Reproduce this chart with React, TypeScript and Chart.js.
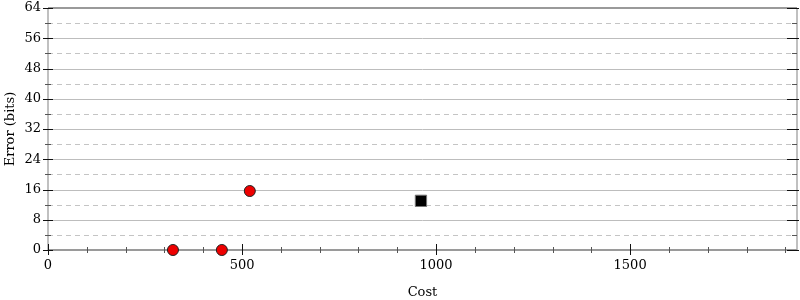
import React, { useEffect, useRef } from "react";
import { Chart, registerables } from "chart.js";

Chart.register(...registerables);

const circleCost = [322, 448, 520];
const circleError = [0, 0, 15.6];
const squareCost = [961];
const squareError = [13.0];
const xMax = 1930;
const yMax = 64;
const yMajorStep = 8;
const yMinorStep = 4;
const xMajorStep = 500;
const xMinorStep = 100;

const FONT = "'DejaVu Serif', serif";

const framePlugin = {
  id: "frame",
  beforeDatasetsDraw(chart: any) {
    const { ctx, chartArea: a, scales } = chart;
    const xs = scales.x;
    const ys = scales.y;
    ctx.save();
    ctx.strokeStyle = "#c4c4c4";
    ctx.lineWidth = 1;
    ctx.setLineDash([5, 4]);
    for (let v = yMinorStep; v < yMax; v += yMajorStep) {
      const py = Math.round(ys.getPixelForValue(v)) + 0.5;
      ctx.beginPath();
      ctx.moveTo(a.left, py);
      ctx.lineTo(a.right, py);
      ctx.stroke();
    }
    ctx.setLineDash([]);
    ctx.strokeStyle = "#bdbdbd";
    for (let v = yMajorStep; v < yMax; v += yMajorStep) {
      const py = Math.round(ys.getPixelForValue(v)) + 0.5;
      ctx.beginPath();
      ctx.moveTo(a.left, py);
      ctx.lineTo(a.right, py);
      ctx.stroke();
    }
    ctx.lineWidth = 2;
    ctx.strokeStyle = "#c0c0c0";
    ctx.beginPath();
    ctx.moveTo(a.left, a.top);
    ctx.lineTo(a.left, a.bottom);
    ctx.moveTo(a.right, a.top);
    ctx.lineTo(a.right, a.bottom);
    ctx.stroke();
    ctx.strokeStyle = "#9a9a9a";
    ctx.beginPath();
    ctx.moveTo(a.left, a.top);
    ctx.lineTo(a.right, a.top);
    ctx.moveTo(a.left, a.bottom);
    ctx.lineTo(a.right, a.bottom);
    ctx.stroke();
    ctx.lineWidth = 1;
    for (let v = 0; v <= yMax; v += yMinorStep) {
      const py = Math.round(ys.getPixelForValue(v)) + 0.5;
      const major = v % yMajorStep === 0;
      ctx.strokeStyle = major ? "#111" : "#555";
      ctx.beginPath();
      if (major) {
        ctx.moveTo(a.left - 5, py);
        ctx.lineTo(a.left + 5, py);
        ctx.moveTo(a.right - 10, py);
        ctx.lineTo(a.right + 2, py);
      } else {
        ctx.moveTo(a.left - 3, py);
        ctx.lineTo(a.left + 3, py);
        ctx.moveTo(a.right - 5, py);
        ctx.lineTo(a.right, py);
      }
      ctx.stroke();
    }
    for (let v = 0; v <= xMax; v += xMinorStep) {
      const px = Math.round(xs.getPixelForValue(v)) + 0.5;
      const major = v % xMajorStep === 0;
      ctx.strokeStyle = major ? "#111" : "#555";
      ctx.beginPath();
      if (major) {
        ctx.moveTo(px, a.bottom - 6);
        ctx.lineTo(px, a.bottom + 5);
      } else {
        ctx.moveTo(px, a.bottom - 3);
        ctx.lineTo(px, a.bottom + 3);
      }
      ctx.stroke();
    }
    ctx.restore();
  },
};

export default function App() {
  const ref = useRef<HTMLCanvasElement>(null);
  useEffect(() => {
    document.body.style.margin = "0";
    const chart = new Chart(ref.current as HTMLCanvasElement, {
      type: "scatter",
      data: {
        datasets: [
          {
            label: "circles",
            data: circleCost.map((c, i) => ({ x: c, y: circleError[i] })),
            pointStyle: "circle",
            pointRadius: 5.5,
            backgroundColor: "#ee0000",
            borderColor: "#222",
            borderWidth: 1,
            clip: false as any,
          },
          {
            label: "squares",
            data: squareCost.map((c, i) => ({ x: c, y: squareError[i] })),
            pointStyle: "rect",
            pointRadius: 8,
            backgroundColor: "#000",
            borderColor: "#777",
            borderWidth: 1,
            clip: false as any,
          },
        ],
      },
      options: {
        animation: false,
        responsive: false,
        maintainAspectRatio: false,
        layout: { autoPadding: false, padding: { top: 8, right: 3, left: 0, bottom: 0 } },
        plugins: {
          legend: { display: false },
          tooltip: { enabled: false },
        },
        scales: {
          x: {
            type: "linear",
            min: 0,
            max: xMax,
            grid: { display: false, drawTicks: false },
            border: { display: false },
            afterBuildTicks: (s: any) => {
              const t = [];
              for (let v = 0; v <= xMax; v += xMajorStep) t.push({ value: v });
              s.ticks = t;
            },
            ticks: {
              padding: 8,
              color: "#000",
              font: { family: FONT, size: 13 },
              maxRotation: 0,
              callback: (v: any) => String(v),
            },
            title: {
              display: true,
              text: "Cost",
              color: "#000",
              font: { family: FONT, size: 13 },
              padding: { top: 8, bottom: 0 },
            },
            afterFit: (s: any) => {
              s.height = 50;
              s.paddingLeft = 0;
              s.paddingRight = 0;
            },
          },
          y: {
            type: "linear",
            min: 0,
            max: yMax,
            grid: { display: false, drawTicks: false },
            border: { display: false },
            ticks: {
              stepSize: yMajorStep,
              padding: 7,
              color: "#000",
              font: { family: FONT, size: 13 },
            },
            title: {
              display: true,
              text: "Error (bits)",
              color: "#000",
              font: { family: FONT, size: 13 },
              padding: { top: 3, bottom: 0 },
            },
            afterFit: (s: any) => {
              s.width = 48;
              s.paddingTop = 0;
              s.paddingBottom = 0;
            },
          },
        },
      },
      plugins: [framePlugin],
    });
    return () => chart.destroy();
  }, []);
  return (
    <div style={{ width: 800, height: 300 }}>
      <canvas ref={ref} width={800} height={300} style={{ display: "block" }} />
    </div>
  );
}
